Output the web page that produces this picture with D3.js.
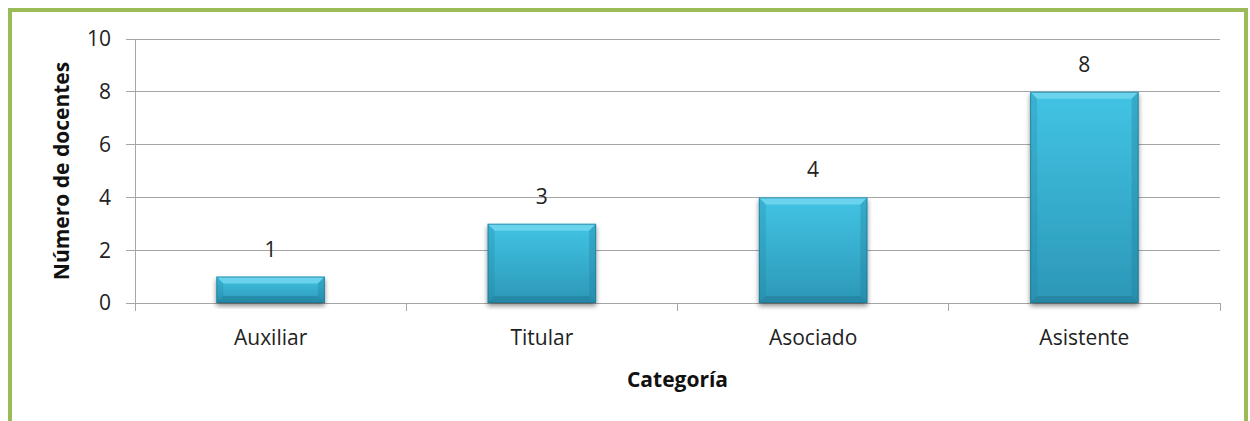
<!DOCTYPE html>
<html><head><meta charset="utf-8">
<script src="https://cdn.jsdelivr.net/npm/d3@7"></script>
<style>body{margin:0;background:#fff;font-family:"Open Sans",Lato,sans-serif;}</style>
</head><body>
<svg id="c" width="1250" height="421"></svg>
<script>
const categories = ["Auxiliar", "Titular", "Asociado", "Asistente"];
const values = [1, 3, 4, 8];
const yTicks = [0, 2, 4, 6, 8, 10];
const yTitle = "Número de docentes";
const xTitle = "Categoría";

const svg = d3.select("#c");
svg.append("rect").attr("x", 10).attr("y", 10).attr("width", 1236).attr("height", 420)
  .attr("fill", "#fff").attr("stroke", "#9bbb59").attr("stroke-width", 4);

const m = {l: 135, r: 1220, t: 39, b: 303};
const x = d3.scaleBand().domain(categories).range([m.l, m.r]).paddingInner(0.6).paddingOuter(0.3);
const xb = d3.scaleBand().domain(categories).range([m.l, m.r]);
const y = d3.scaleLinear().domain([0, 10]).range([m.b, m.t]);

const defs = svg.append("defs");
const g1 = defs.append("linearGradient").attr("id", "bg").attr("x1", 0).attr("y1", 0).attr("x2", 0).attr("y2", 1);
g1.append("stop").attr("offset", 0).attr("stop-color", "#42c4e4");
g1.append("stop").attr("offset", 1).attr("stop-color", "#2c97b7");
const f = defs.append("filter").attr("id", "sh").attr("x", "-10%").attr("y", "-10%").attr("width", "120%").attr("height", "130%");
f.append("feGaussianBlur").attr("in", "SourceAlpha").attr("stdDeviation", 2.5);
f.append("feOffset").attr("dx", 0).attr("dy", 3).attr("result", "ob");
f.append("feComponentTransfer").append("feFuncA").attr("type", "linear").attr("slope", 0.45);
const mg = f.append("feMerge"); mg.append("feMergeNode"); mg.append("feMergeNode").attr("in", "SourceGraphic");

// gridlines
svg.append("g").selectAll("line").data(yTicks).join("line")
  .attr("x1", m.l - 9).attr("x2", m.r).attr("y1", d => y(d)).attr("y2", d => y(d))
  .attr("stroke", "#a6a6a6").attr("stroke-width", 1).attr("shape-rendering", "crispEdges");
// y axis
svg.append("line").attr("x1", m.l).attr("x2", m.l).attr("y1", m.t).attr("y2", m.b + 8)
  .attr("stroke", "#a6a6a6").attr("shape-rendering", "crispEdges");
svg.append("g").selectAll("text").data(yTicks).join("text")
  .attr("x", m.l - 24).attr("y", d => y(d)).attr("dy", "0.35em").attr("text-anchor", "end")
  .attr("font-size", 21).attr("fill", "#222").text(d => d);
// x ticks at band boundaries
const bounds = categories.map(c => xb(c)).concat([m.r]);
svg.append("g").selectAll("line").data(bounds).join("line")
  .attr("x1", d => d).attr("x2", d => d).attr("y1", m.b).attr("y2", m.b + 8)
  .attr("stroke", "#a6a6a6").attr("shape-rendering", "crispEdges");

// bars
const bars = svg.append("g").selectAll("g").data(values).join("g").attr("filter", "url(#sh)");
bars.each(function(v, i) {
  const gg = d3.select(this);
  const x0 = x(categories[i]), w = x.bandwidth(), y0 = y(v), h = y(0) - y(v);
  const b = Math.min(7, h / 2.5);
  gg.append("rect").attr("x", x0).attr("y", y0).attr("width", w).attr("height", h).attr("fill", "url(#bg)");
  gg.append("path").attr("d", `M${x0},${y0}L${x0 + w},${y0}L${x0 + w - b},${y0 + b}L${x0 + b},${y0 + b}Z`).attr("fill", "#7ddcf2").attr("opacity", 0.7);
  gg.append("path").attr("d", `M${x0},${y0}L${x0 + b},${y0 + b}L${x0 + b},${y0 + h - b}L${x0},${y0 + h}Z`).attr("fill", "#1f7f9c").attr("opacity", 0.25);
  gg.append("path").attr("d", `M${x0 + w},${y0}L${x0 + w - b},${y0 + b}L${x0 + w - b},${y0 + h - b}L${x0 + w},${y0 + h}Z`).attr("fill", "#1f7f9c").attr("opacity", 0.35);
  gg.append("path").attr("d", `M${x0},${y0 + h}L${x0 + b},${y0 + h - b}L${x0 + w - b},${y0 + h - b}L${x0 + w},${y0 + h}Z`).attr("fill", "#1a6a84").attr("opacity", 0.35);
  gg.append("rect").attr("x", x0 + 0.5).attr("y", y0 + 0.5).attr("width", w - 1).attr("height", h - 1)
    .attr("fill", "none").attr("stroke", "#1c6f88").attr("stroke-width", 1).attr("opacity", 0.6);
});
// value labels
svg.append("g").selectAll("text").data(values).join("text")
  .attr("x", (d, i) => x(categories[i]) + x.bandwidth() / 2).attr("y", d => y(d) - 20)
  .attr("text-anchor", "middle").attr("font-size", 21).attr("fill", "#222").text(d => d);
// category labels
svg.append("g").selectAll("text").data(categories).join("text")
  .attr("x", d => xb(d) + xb.bandwidth() / 2).attr("y", 345)
  .attr("text-anchor", "middle").attr("font-size", 21).attr("fill", "#222").text(d => d);
// titles
svg.append("text").attr("x", (m.l + m.r) / 2).attr("y", 387).attr("text-anchor", "middle")
  .attr("font-size", 21).attr("font-weight", "bold").attr("fill", "#111").text(xTitle);
svg.append("text").attr("transform", `translate(69,${(m.t + m.b) / 2}) rotate(-90)`).attr("text-anchor", "middle")
  .attr("font-size", 21).attr("font-weight", "bold").attr("fill", "#111").text(yTitle);
</script>
</body></html>
